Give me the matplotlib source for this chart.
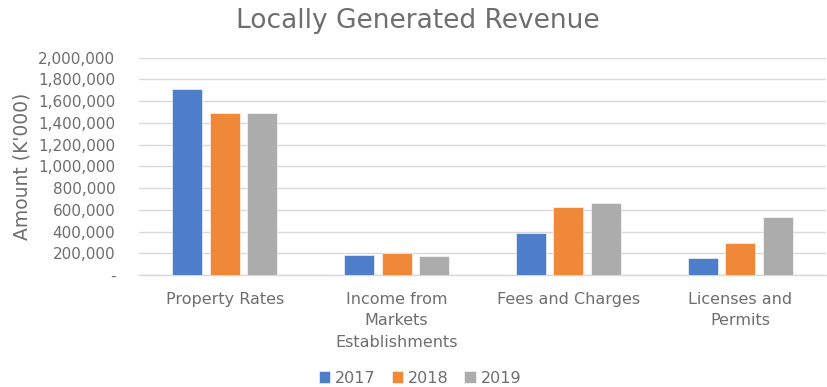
import matplotlib
matplotlib.use("Agg")
import matplotlib.pyplot as plt
import numpy as np
from matplotlib.ticker import FuncFormatter

categories = ["Property Rates", "Income from\nMarkets\nEstablishments",
              "Fees and Charges", "Licenses and\nPermits"]
years = ["2017", "2018", "2019"]
values_2017 = [1710000, 184000, 386000, 162000]
values_2018 = [1487000, 200000, 631000, 300000]
values_2019 = [1487000, 175000, 662000, 536000]
colors = ["#4E7DC9", "#F0883A", "#ACACAC"]

text_color = "#6E6E6E"
plt.rcParams["font.family"] = ["DejaVu Sans"]

fig = plt.figure(figsize=(8.27, 3.87), dpi=100)
ax = fig.add_axes([0.168, 0.289, 0.831, 0.562])

x = np.arange(len(categories))
width = 0.175
step = 0.218
for i, (vals, label) in enumerate(zip([values_2017, values_2018, values_2019], years)):
    ax.bar(x + (i - 1) * step, vals, width, color=colors[i], label=label,
           zorder=3, edgecolor="white", linewidth=0.4)

ax.set_xlim(-0.5, len(categories) - 0.5)
ax.set_ylim(0, 2000000)
ax.set_yticks(np.arange(0, 2000001, 200000))
ax.yaxis.set_major_formatter(FuncFormatter(lambda v, p: "-" if v == 0 else f"{int(v):,}"))
ax.grid(axis="y", color="#D9D9D9", linewidth=1.0, zorder=0)
ax.set_axisbelow(True)
for side in ["top", "right", "left"]:
    ax.spines[side].set_visible(False)
ax.spines["bottom"].set_color("#D9D9D9")
ax.spines["bottom"].set_linewidth(1.0)
ax.tick_params(axis="both", length=0, colors=text_color, labelsize=11)
ax.tick_params(axis="y", pad=17)
ax.tick_params(axis="x", pad=12)
ax.set_xticks(x)
ax.set_xticklabels(categories, fontsize=11.5, color=text_color, linespacing=1.55)

ax.set_ylabel("Amount (K'000)", fontsize=13.5, color=text_color, labelpad=5)
fig.text(0.505, 0.945, "Locally Generated Revenue", ha="center", va="center",
         fontsize=19, color=text_color)

leg = fig.legend(loc="center", bbox_to_anchor=(0.508, 0.023), ncol=3, frameon=False,
                 fontsize=11.5, handlelength=0.7, handleheight=0.7,
                 handletextpad=0.3, columnspacing=1.0)
for t in leg.get_texts():
    t.set_color(text_color)

fig.savefig("out.png", dpi=100)
